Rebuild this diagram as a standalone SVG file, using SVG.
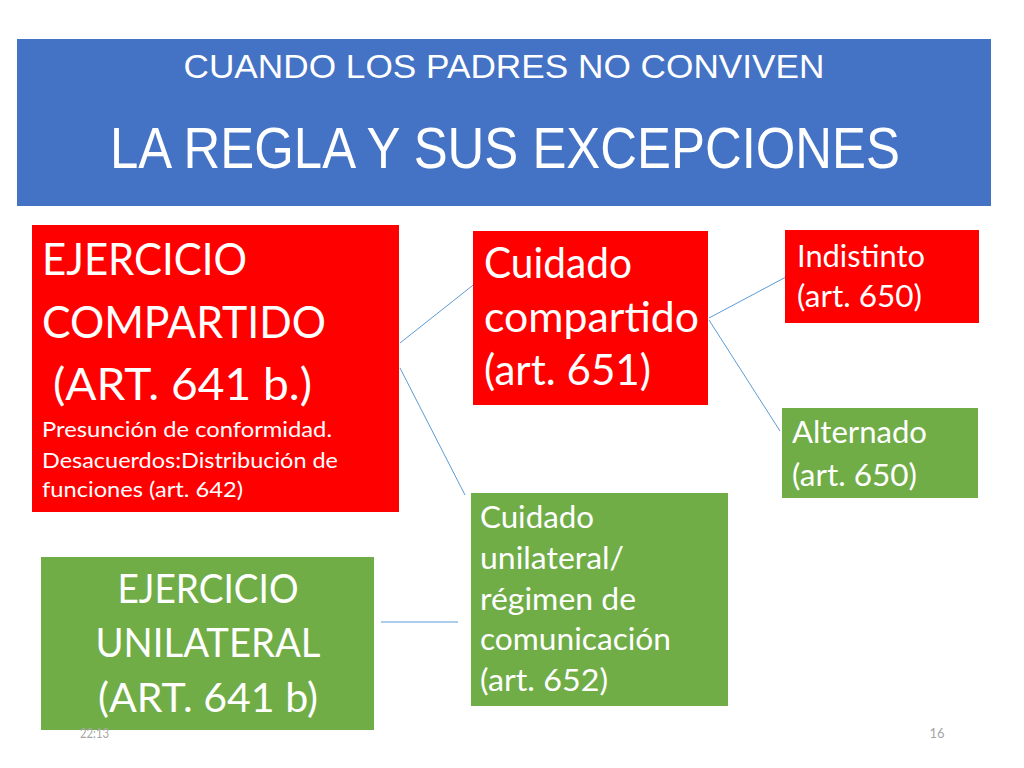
<svg xmlns="http://www.w3.org/2000/svg" width="1024" height="768" viewBox="0 0 1024 768">
<style>
.hd{fill:#FFFFFF;font-family:"Liberation Sans",Arial,sans-serif;}
.t{fill:#FFFFFF;font-family:Lato,"Open Sans",sans-serif;}
.red{fill:#FF0000;}
.green{fill:#70AD47;}
.conn{stroke:#5B9BD5;stroke-width:1;fill:none;}
.ft{fill:#A6A6A6;font-family:Lato,"Liberation Sans",sans-serif;font-size:13px;}
</style>
<rect width="1024" height="768" fill="#FFFFFF"/>
<g id="header">
<rect x="17" y="39" width="974" height="167" fill="#4472C4"/>
<text class="hd" x="504" y="78" font-size="33" text-anchor="middle" textLength="641" lengthAdjust="spacingAndGlyphs">CUANDO LOS PADRES NO CONVIVEN</text>
<text class="hd" x="505" y="168" font-size="57" text-anchor="middle" textLength="790" lengthAdjust="spacingAndGlyphs">LA REGLA Y SUS EXCEPCIONES</text>
</g>
<g id="connectors">
<line class="conn" x1="400" y1="343" x2="477" y2="282"/>
<line class="conn" x1="400" y1="368" x2="465" y2="495"/>
<line class="conn" x1="709" y1="318" x2="786" y2="277"/>
<line class="conn" x1="709" y1="320" x2="780" y2="431"/>
<line class="conn" x1="381" y1="622" x2="458" y2="622"/>
</g>
<g id="ejercicio-compartido">
<rect class="red" x="32" y="225" width="367" height="287"/>
<text class="t" font-size="44"><tspan x="42" y="275" textLength="205" lengthAdjust="spacingAndGlyphs">EJERCICIO</tspan></text>
<text class="t" font-size="44"><tspan x="42" y="338" textLength="284" lengthAdjust="spacingAndGlyphs">COMPARTIDO</tspan></text>
<text class="t" font-size="44"><tspan x="53" y="400" textLength="259" lengthAdjust="spacingAndGlyphs">(ART. 641 b.)</tspan></text>
<text class="t" font-size="22"><tspan x="42" y="437" textLength="290" lengthAdjust="spacingAndGlyphs">Presunción de conformidad.</tspan></text>
<text class="t" font-size="22"><tspan x="42" y="468" textLength="296" lengthAdjust="spacingAndGlyphs">Desacuerdos:Distribución de</tspan></text>
<text class="t" font-size="22"><tspan x="42" y="497" textLength="201" lengthAdjust="spacingAndGlyphs">funciones (art. 642)</tspan></text>
</g>
<g id="cuidado-compartido">
<rect class="red" x="473" y="231" width="235" height="174"/>
<text class="t" font-size="43"><tspan x="484" y="278" textLength="148" lengthAdjust="spacingAndGlyphs">Cuidado</tspan></text>
<text class="t" font-size="43"><tspan x="484" y="332" textLength="215" lengthAdjust="spacingAndGlyphs">compartido</tspan></text>
<text class="t" font-size="43"><tspan x="484" y="385" textLength="167" lengthAdjust="spacingAndGlyphs">(art. 651)</tspan></text>
</g>
<g id="indistinto">
<rect class="red" x="785" y="230" width="194" height="93"/>
<text class="t" font-size="31"><tspan x="797" y="267" textLength="128" lengthAdjust="spacingAndGlyphs">Indistinto</tspan></text>
<text class="t" font-size="31"><tspan x="797" y="307" textLength="125" lengthAdjust="spacingAndGlyphs">(art. 650)</tspan></text>
</g>
<g id="alternado">
<rect class="green" x="782" y="408" width="196" height="90"/>
<text class="t" font-size="31"><tspan x="792" y="443" textLength="135" lengthAdjust="spacingAndGlyphs">Alternado</tspan></text>
<text class="t" font-size="31"><tspan x="792" y="486" textLength="125" lengthAdjust="spacingAndGlyphs">(art. 650)</tspan></text>
</g>
<g id="cuidado-unilateral">
<rect class="green" x="471" y="493" width="257" height="213"/>
<text class="t" font-size="30"><tspan x="480" y="528" textLength="114" lengthAdjust="spacingAndGlyphs">Cuidado</tspan></text>
<text class="t" font-size="30"><tspan x="480" y="569" textLength="144" lengthAdjust="spacingAndGlyphs">unilateral/</tspan></text>
<text class="t" font-size="30"><tspan x="480" y="610" textLength="156" lengthAdjust="spacingAndGlyphs">régimen de</tspan></text>
<text class="t" font-size="30"><tspan x="480" y="650" textLength="191" lengthAdjust="spacingAndGlyphs">comunicación</tspan></text>
<text class="t" font-size="30"><tspan x="480" y="691" textLength="128" lengthAdjust="spacingAndGlyphs">(art. 652)</tspan></text>
</g>
<g id="ejercicio-unilateral">
<rect class="green" x="41" y="557" width="333" height="173"/>
<text class="t" font-size="40" text-anchor="middle"><tspan x="208" y="603" textLength="181" lengthAdjust="spacingAndGlyphs">EJERCICIO</tspan></text>
<text class="t" font-size="40" text-anchor="middle"><tspan x="208" y="657" textLength="225" lengthAdjust="spacingAndGlyphs">UNILATERAL</tspan></text>
<text class="t" font-size="40" text-anchor="middle"><tspan x="208" y="712" textLength="220" lengthAdjust="spacingAndGlyphs">(ART. 641 b)</tspan></text>
</g>
<g id="footer">
<text class="ft" x="80" y="738" textLength="29" lengthAdjust="spacingAndGlyphs">22:13</text>
<text class="ft" x="937" y="738" text-anchor="middle">16</text>
</g>
</svg>
